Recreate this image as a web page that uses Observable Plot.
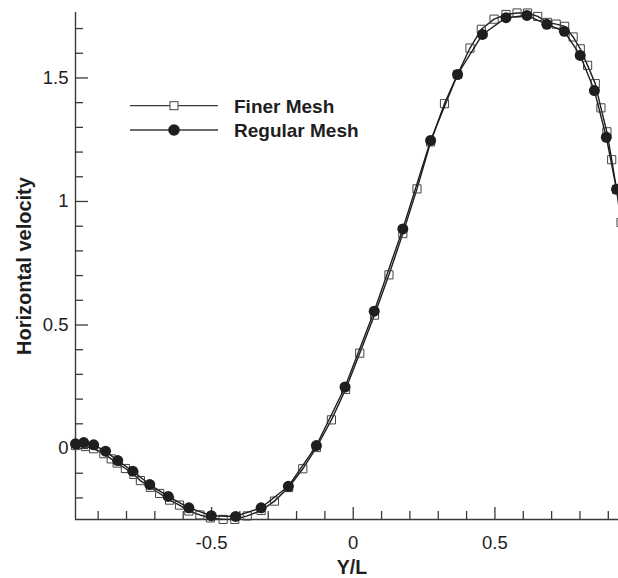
<!DOCTYPE html>
<html><head><meta charset="utf-8">
<script src="https://cdn.jsdelivr.net/npm/d3@7"></script>
<script src="https://cdn.jsdelivr.net/npm/@observablehq/plot@0.6"></script>
<style>
html,body{margin:0;padding:0;background:#fff;}
#wrap{position:relative;width:618px;height:578px;overflow:hidden;}
#wrap svg{display:block;}
#legend{position:absolute;left:0;top:0;}
</style></head><body><div id="wrap"></div>
<script>
// Regular mesh (filled circles)
const regularX = [-0.980,-0.951,-0.916,-0.874,-0.831,-0.778,-0.718,-0.653,-0.580,-0.501,-0.415,-0.325,-0.229,-0.130,-0.029,0.074,0.175,0.273,0.368,0.456,0.539,0.613,0.683,0.745,0.801,0.851,0.893,0.929];
const regularY = [0.019,0.024,0.015,-0.011,-0.049,-0.092,-0.146,-0.194,-0.240,-0.272,-0.275,-0.240,-0.153,0.012,0.249,0.556,0.889,1.247,1.514,1.676,1.744,1.753,1.717,1.689,1.591,1.449,1.260,1.049];
// Finer mesh (open squares)
const finerX = [-0.980,-0.945,-0.916,-0.880,-0.854,-0.833,-0.804,-0.774,-0.751,-0.716,-0.683,-0.648,-0.613,-0.580,-0.541,-0.504,-0.459,-0.418,-0.374,-0.325,-0.278,-0.228,-0.178,-0.130,-0.077,-0.027,0.023,0.075,0.126,0.175,0.225,0.273,0.322,0.368,0.412,0.452,0.497,0.539,0.578,0.615,0.651,0.685,0.716,0.746,0.776,0.801,0.827,0.854,0.874,0.895,0.912,0.929,0.945];
const finerY = [0.012,0.008,-0.001,-0.021,-0.042,-0.059,-0.081,-0.105,-0.130,-0.157,-0.182,-0.209,-0.229,-0.253,-0.269,-0.281,-0.287,-0.287,-0.273,-0.251,-0.213,-0.158,-0.082,0.004,0.116,0.239,0.386,0.540,0.703,0.870,1.051,1.241,1.396,1.514,1.621,1.697,1.738,1.757,1.763,1.763,1.749,1.725,1.718,1.709,1.666,1.618,1.551,1.477,1.379,1.282,1.169,1.049,0.915];
const seriesNames = ["Finer Mesh", "Regular Mesh"];
const xMajor = [-0.5, 0, 0.5];
const xMinor = [-0.9,-0.8,-0.7,-0.6,-0.4,-0.3,-0.2,-0.1,0.1,0.2,0.3,0.4,0.6,0.7,0.8,0.9];
const yMajor = [0, 0.5, 1, 1.5];
const yMinor = [-0.2,-0.1,0.1,0.2,0.3,0.4,0.6,0.7,0.8,0.9,1.1,1.2,1.3,1.4,1.6,1.7];
const xDomain = [-0.980, 0.936];
const yDomain = [-0.2874, 1.765];
const xTitle = "Y/L";
const yTitle = "Horizontal velocity";

const W = 618, H = 578, mL = 75, mR = 0, mT = 12, mB = 59;
const plotW = W - mL - mR, plotH = H - mT - mB;
const font = "'Liberation Sans', Arial, Helvetica, sans-serif";
const ink = "#1e1e1e", axisInk = "#3a3a3a";

const finer = finerX.map((x, i) => ({x, y: finerY[i]}));
const regular = regularX.map((x, i) => ({x, y: regularY[i]}));

const chart = Plot.plot({
  width: W, height: H,
  marginLeft: mL, marginRight: mR, marginTop: mT, marginBottom: mB,
  style: {fontFamily: font, background: "white", color: ink, overflow: "hidden"},
  x: {domain: xDomain, label: null},
  y: {domain: yDomain, label: null},
  marks: [
    Plot.axisX({ticks: xMajor, tickSize: 0, tickPadding: 16, tickFormat: d => String(d), fontSize: 18.5, label: null}),
    Plot.axisY({ticks: yMajor, tickSize: 0, tickPadding: 7, tickFormat: d => String(d), fontSize: 18.5, label: null}),
    Plot.ruleX(xMajor, {stroke: axisInk, strokeWidth: 1.3, insetTop: plotH - 12}),
    Plot.ruleX(xMinor, {stroke: axisInk, strokeWidth: 1.3, insetTop: plotH - 8}),
    Plot.ruleY(yMajor, {stroke: axisInk, strokeWidth: 1.3, insetRight: plotW - 13}),
    Plot.ruleY(yMinor, {stroke: axisInk, strokeWidth: 1.3, insetRight: plotW - 8}),
    Plot.ruleX([xDomain[0]], {stroke: axisInk, strokeWidth: 1.4}),
    Plot.ruleY([yDomain[0]], {stroke: axisInk, strokeWidth: 1.4}),
    Plot.line(finer, {x: "x", y: "y", stroke: ink, strokeWidth: 1.4}),
    Plot.dot(finer, {x: "x", y: "y", symbol: "square", r: 4.6, fill: "none", stroke: "#444", strokeWidth: 1}),
    Plot.line(regular, {x: "x", y: "y", stroke: ink, strokeWidth: 1.4}),
    Plot.dot(regular, {x: "x", y: "y", r: 5.5, fill: ink, stroke: "none"}),
    Plot.text([xTitle], {text: d => d, frameAnchor: "bottom", lineAnchor: "bottom", textAnchor: "middle", dy: 54, dx: 5, fontSize: 19.5, fontWeight: "bold", fill: ink}),
    Plot.text([yTitle], {text: d => d, frameAnchor: "left", textAnchor: "middle", lineAnchor: "middle", rotate: -90, dx: -51, fontSize: 20, fontWeight: "bold", fill: ink})
  ]
});
const wrap = document.getElementById("wrap");
wrap.appendChild(chart);

// Legend overlay
const legend = d3.select(wrap).append("svg").attr("id", "legend")
  .attr("width", W).attr("height", H).style("pointer-events", "none");
const rows = [{name: seriesNames[0], kind: "square", y: 105.7}, {name: seriesNames[1], kind: "circle", y: 130}];
rows.forEach(r => {
  legend.append("line").attr("x1", 130).attr("x2", 218).attr("y1", r.y).attr("y2", r.y)
    .attr("stroke", axisInk).attr("stroke-width", 1.3);
  if (r.kind === "square") {
    legend.append("rect").attr("x", 174 - 4).attr("y", r.y - 4).attr("width", 8).attr("height", 8)
      .attr("fill", "white").attr("stroke", "#444").attr("stroke-width", 1);
  } else {
    legend.append("circle").attr("cx", 174).attr("cy", r.y).attr("r", 5.8).attr("fill", ink);
  }
  legend.append("text").attr("x", 234).attr("y", r.y + 7).text(r.name)
    .attr("font-family", font).attr("font-size", 19).attr("font-weight", "bold").attr("fill", ink);
});
</script>
</body></html>
